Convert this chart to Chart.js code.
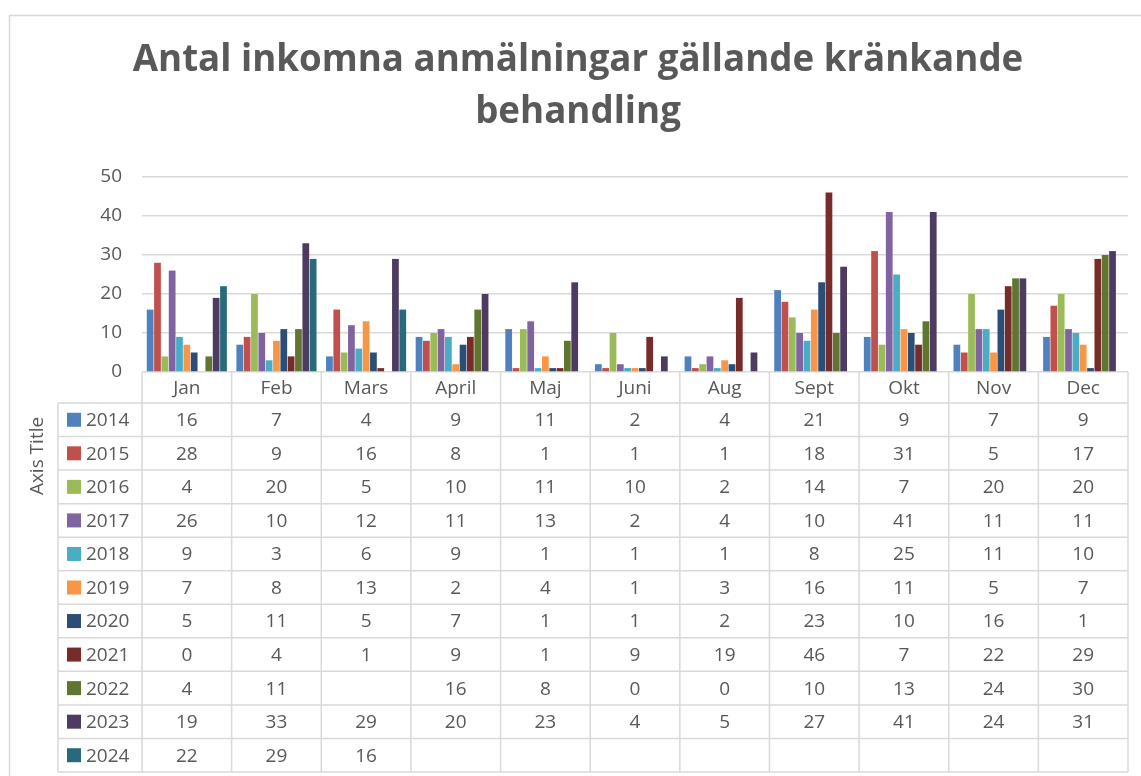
<!DOCTYPE html>
<html><head><meta charset="utf-8">
<script src="https://cdn.jsdelivr.net/npm/chart.js@4/dist/chart.umd.min.js"></script>
<style>html,body{margin:0;padding:0;background:#fff;}#wrap{position:relative;width:1141px;height:776px;}</style>
</head><body><div id="wrap"><canvas id="c" width="1141" height="776"></canvas></div>
<script>
const months = ['Jan','Feb','Mars','April','Maj','Juni','Aug','Sept','Okt','Nov','Dec'];
const years = ['2014','2015','2016','2017','2018','2019','2020','2021','2022','2023','2024'];
const v2014 = [16,7,4,9,11,2,4,21,9,7,9];
const v2015 = [28,9,16,8,1,1,1,18,31,5,17];
const v2016 = [4,20,5,10,11,10,2,14,7,20,20];
const v2017 = [26,10,12,11,13,2,4,10,41,11,11];
const v2018 = [9,3,6,9,1,1,1,8,25,11,10];
const v2019 = [7,8,13,2,4,1,3,16,11,5,7];
const v2020 = [5,11,5,7,1,1,2,23,10,16,1];
const v2021 = [0,4,1,9,1,9,19,46,7,22,29];
const v2022 = [4,11,null,16,8,0,0,10,13,24,30];
const v2023 = [19,33,29,20,23,4,5,27,41,24,31];
const v2024 = [22,29,16,null,null,null,null,null,null,null,null];
const yTicks = [0,10,20,30,40,50];
const seriesValues = [v2014,v2015,v2016,v2017,v2018,v2019,v2020,v2021,v2022,v2023,v2024];
const colors = ['#4F81BD','#C0504D','#9BBB59','#8064A2','#4BACC6','#F79646','#2C4D75','#772C2A','#5F7530','#4D3B62','#276A7C'];

const TXT = '#595959', LINE = '#d9d9d9', FONT = "'Open Sans', 'DejaVu Sans', sans-serif";

const borderPlugin = {
  id: 'outerBorder',
  beforeDraw(chart) {
    const ctx = chart.ctx;
    ctx.save();
    ctx.fillStyle = '#fff';
    ctx.fillRect(0, 0, chart.width, chart.height);
    ctx.strokeStyle = LINE; ctx.lineWidth = 1.5;
    ctx.strokeRect(9.5, 15.5, 2000, 2000);
    ctx.restore();
  }
};

const tablePlugin = {
  id: 'dataTable',
  afterDraw(chart) {
    const ctx = chart.ctx, ca = chart.chartArea, xs = chart.scales.x;
    const n = months.length;
    const bounds = [ca.left];
    for (let i = 1; i < n; i++) bounds.push((xs.getPixelForValue(i - 1) + xs.getPixelForValue(i)) / 2);
    bounds.push(ca.right);
    const legendLeft = 58;
    const headerTop = ca.bottom, headerBottom = ca.bottom + 31;
    const tableBottom = 772;
    const rowH = (tableBottom - headerBottom) / years.length;
    ctx.save();
    ctx.strokeStyle = LINE; ctx.lineWidth = 1.5;
    ctx.beginPath();
    bounds.forEach(b => { ctx.moveTo(b, headerTop); ctx.lineTo(b, tableBottom); });
    ctx.moveTo(legendLeft, headerBottom); ctx.lineTo(legendLeft, tableBottom);
    for (let r = 0; r <= years.length; r++) {
      const y = headerBottom + r * rowH;
      ctx.moveTo(legendLeft, y); ctx.lineTo(ca.right, y);
    }
    ctx.stroke();

    ctx.fillStyle = TXT;
    ctx.font = "19px " + FONT;
    ctx.textAlign = 'center'; ctx.textBaseline = 'middle';
    months.forEach((m, i) => {
      ctx.fillText(m, (bounds[i] + bounds[i + 1]) / 2, (headerTop + headerBottom) / 2 + 1);
    });
    seriesValues.forEach((vals, r) => {
      const y = headerBottom + rowH * (r + 0.5) + 1;
      vals.forEach((v, i) => {
        if (v === null || v === undefined) return;
        ctx.fillText(String(v), (bounds[i] + bounds[i + 1]) / 2, y);
      });
    });
    ctx.textAlign = 'left';
    years.forEach((yr, r) => {
      const y = headerBottom + rowH * (r + 0.5);
      ctx.fillStyle = colors[r];
      ctx.fillRect(67, y - 7, 14, 14);
      ctx.fillStyle = TXT;
      ctx.fillText(yr, 86, y + 1);
    });
    ctx.translate(38, 456);
    ctx.rotate(-Math.PI / 2);
    ctx.textAlign = 'center';
    ctx.fillText('Axis Title', 0, 0);
    ctx.restore();
  }
};

new Chart(document.getElementById('c'), {
  type: 'bar',
  data: {
    labels: months,
    datasets: years.map((y, i) => ({
      label: y, data: seriesValues[i], backgroundColor: colors[i],
      categoryPercentage: 0.9, barPercentage: 0.92
    }))
  },
  options: {
    responsive: false, animation: false, devicePixelRatio: 1,
    layout: { padding: { left: 28, right: 13, top: 0, bottom: 404 } },
    plugins: {
      legend: { display: false }, tooltip: { enabled: false },
      title: {
        display: true,
        text: ['Antal inkomna anmälningar gällande kränkande', 'behandling'],
        color: TXT,
        font: { family: FONT, size: 36.7, weight: 'bold', lineHeight: '52px' },
        padding: { top: 35, bottom: 38 }
      }
    },
    scales: {
      x: { display: false },
      y: {
        min: 0, max: 50,
        afterFit(s) { s.width = 114; },
        ticks: {
          stepSize: 5, color: TXT, padding: 20,
          font: { family: FONT, size: 19 },
          callback: v => (yTicks.includes(v) ? String(v) : '')
        },
        grid: { color: LINE, lineWidth: 1.5, drawTicks: false },
        border: { display: false }
      }
    }
  },
  plugins: [borderPlugin, tablePlugin]
});
</script></body></html>
